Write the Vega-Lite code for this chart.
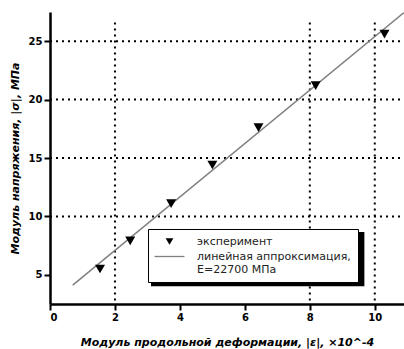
{
  "$schema": "https://vega.github.io/schema/vega-lite/v6.json",
  "width": 354,
  "height": 292,
  "autosize": "none",
  "padding": {"left": 50, "top": 12, "right": 0, "bottom": 45},
  "background": "white",
  "config": {"view": {"stroke": null}, "font": "DejaVu Sans"},
  "layer": [
    {
      "data": {"values": [{"gx": 2}, {"gx": 8}, {"gx": 10}]},
      "mark": {"type": "rule", "color": "black", "strokeWidth": 2, "strokeDash": [2, 4]},
      "encoding": {
        "x": {"field": "gx", "type": "quantitative", "scale": {"domain": [0, 10.9], "nice": false, "zero": false}},
        "y": {"datum": 26.6, "type": "quantitative"},
        "y2": {"datum": 2.5}
      }
    },
    {
      "data": {"values": [{"gy": 10}, {"gy": 15}, {"gy": 20}, {"gy": 25}]},
      "mark": {"type": "rule", "color": "black", "strokeWidth": 2, "strokeDash": [2, 4]},
      "encoding": {
        "y": {"field": "gy", "type": "quantitative"},
        "x": {"datum": 0, "type": "quantitative"},
        "x2": {"datum": 10.9}
      }
    },
    {
      "data": {"values": [{"x1": 3.11, "x2": 9.68, "y1": 8.66, "y2": 4.02}]},
      "mark": {"type": "rect", "color": "black"},
      "encoding": {
        "x": {"field": "x1", "type": "quantitative"},
        "x2": {"field": "x2"},
        "y": {"field": "y1", "type": "quantitative"},
        "y2": {"field": "y2"}
      }
    },
    {
      "data": {"values": [
        {"series": "линейная аппроксимация,", "ex": 0.7, "sy": 4.12},
        {"series": "линейная аппроксимация,", "ex": 10.9, "sy": 27.45}
      ]},
      "mark": {"type": "line", "strokeWidth": 1.5, "clip": true},
      "encoding": {
        "x": {"field": "ex", "type": "quantitative"},
        "y": {"field": "sy", "type": "quantitative"},
        "color": {"field": "series", "type": "nominal"}
      }
    },
    {
      "data": {"values": [
        {"series": "эксперимент", "ex": 1.54, "sy": 5.5},
        {"series": "эксперимент", "ex": 2.47, "sy": 7.9},
        {"series": "эксперимент", "ex": 3.73, "sy": 11.1},
        {"series": "эксперимент", "ex": 5.0, "sy": 14.4},
        {"series": "эксперимент", "ex": 6.42, "sy": 17.6},
        {"series": "эксперимент", "ex": 8.18, "sy": 21.2},
        {"series": "эксперимент", "ex": 10.3, "sy": 25.6}
      ]},
      "mark": {"type": "point", "filled": true, "opacity": 1, "size": 100},
      "encoding": {
        "x": {
          "field": "ex", "type": "quantitative",
          "axis": {
            "title": "Модуль продольной деформации, |ε|, ×10^-4",
            "titleFont": "DejaVu Sans", "titleFontStyle": "italic", "titleFontWeight": "bold", "titleFontSize": 11,
            "titleColor": "black", "titlePadding": 14,
            "values": [0, 1, 2, 3, 4, 5, 6, 7, 8, 9, 10],
            "labelExpr": "datum.value % 2 == 0 ? datum.label : ''",
            "labelFont": "DejaVu Sans", "labelFontWeight": "bold", "labelFontSize": 10, "labelColor": "black",
            "domainColor": "black", "domainWidth": 2.5, "tickColor": "black", "tickWidth": 2,
            "tickSize": {"condition": {"test": "datum.value % 2 == 0", "value": 6}, "value": 3},
            "grid": false
          }
        },
        "y": {
          "field": "sy", "type": "quantitative",
          "scale": {"domain": [2.5, 27.5], "nice": false, "zero": false},
          "axis": {
            "title": "Модуль напряжения, |σ|, МПа",
            "titleFont": "DejaVu Sans", "titleFontStyle": "italic", "titleFontWeight": "bold", "titleFontSize": 11,
            "titleColor": "black", "titlePadding": 8,
            "values": [5, 7.5, 10, 12.5, 15, 17.5, 20, 22.5, 25, 27.5],
            "labelExpr": "datum.value % 5 == 0 ? datum.label : ''",
            "labelFont": "DejaVu Sans", "labelFontWeight": "bold", "labelFontSize": 10, "labelColor": "black",
            "domainColor": "black", "domainWidth": 2.5, "tickColor": "black", "tickWidth": 2,
            "tickSize": {"condition": {"test": "datum.value % 5 == 0", "value": 6}, "value": 4},
            "grid": false
          }
        },
        "shape": {
          "field": "series", "type": "nominal",
          "scale": {"domain": ["эксперимент", "линейная аппроксимация,"], "range": ["triangle-down", "M-3.87,-0.17H3.87V0.17H-3.87Z"]},
          "legend": {
            "title": null, "orient": "none", "legendX": 98, "legendY": 217,
            "strokeColor": "black", "fillColor": "white", "padding": 7,
            "labelFont": "DejaVu Sans", "labelFontSize": 11, "labelColor": "#222",
            "labelExpr": "datum.value == 'эксперимент' ? 'эксперимент' : ['линейная аппроксимация,', 'E=22700 МПа']",
            "symbolOffset": 9, "labelOffset": 22, "rowPadding": 3, "symbolSize": 60, "symbolStrokeWidth": 0
          }
        },
        "color": {
          "field": "series", "type": "nominal",
          "scale": {"domain": ["эксперимент", "линейная аппроксимация,"], "range": ["black", "#808080"]},
          "legend": {
            "title": null, "orient": "none", "legendX": 98, "legendY": 217,
            "strokeColor": "black", "fillColor": "white", "padding": 7,
            "labelFont": "DejaVu Sans", "labelFontSize": 11, "labelColor": "#222",
            "labelExpr": "datum.value == 'эксперимент' ? 'эксперимент' : ['линейная аппроксимация,', 'E=22700 МПа']",
            "symbolOffset": 9, "labelOffset": 22, "rowPadding": 3, "symbolSize": 60, "symbolStrokeWidth": 0
          }
        }
      }
    }
  ]
}
